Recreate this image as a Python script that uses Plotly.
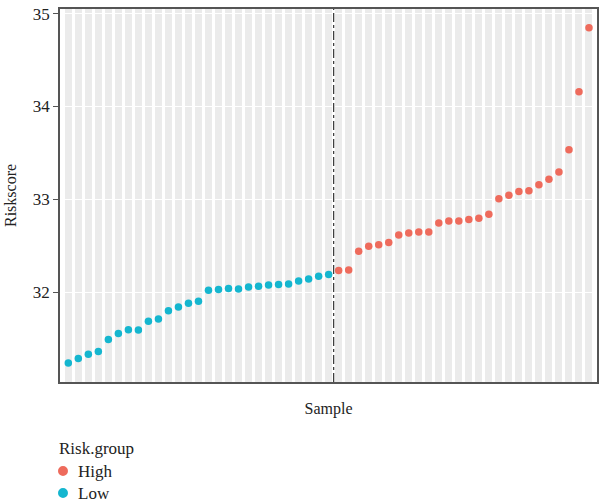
import plotly.graph_objects as go

# ---- data ----
low_scores = [31.234, 31.282, 31.328, 31.360, 31.487, 31.554, 31.594, 31.590, 31.684,
              31.709, 31.799, 31.838, 31.878, 31.900, 32.018, 32.026, 32.037, 32.032,
              32.054, 32.061, 32.076, 32.080, 32.086, 32.119, 32.140, 32.169, 32.188]
high_scores = [32.231, 32.237, 32.439, 32.493, 32.509, 32.533, 32.615, 32.636, 32.647,
               32.647, 32.744, 32.766, 32.766, 32.781, 32.795, 32.838, 33.005, 33.043,
               33.083, 33.090, 33.156, 33.216, 33.294, 33.534, 34.157, 34.848]
groups = ["High", "Low"]
y_ticks = [32, 33, 34, 35]
y_minor = [31.5, 32.5, 33.5, 34.5]

n_low = len(low_scores)
n_all = n_low + len(high_scores)
low_x = list(range(1, n_low + 1))
high_x = list(range(n_low + 1, n_all + 1))
samples = list(range(1, n_all + 1))

RED = "#EE6B5C"
BLUE = "#15B6CF"
COLORS = {"High": RED, "Low": BLUE}
FONT = "Liberation Serif"
TXT = "#222222"

W, H = 600, 504
ML, MR, MT, MB = 60, 1, 9, 122
PW, PH = W - ML - MR, H - MT - MB


def px_x(px):
    return (px - ML) / PW


def px_y(py):
    return (H - MB - py) / PH


fig = go.Figure()
fig.add_trace(go.Scatter(x=high_x, y=high_scores, mode="markers", name="High",
                         marker=dict(color=RED, size=7.5)))
fig.add_trace(go.Scatter(x=low_x, y=low_scores, mode="markers", name="Low",
                         marker=dict(color=BLUE, size=7.5)))

y_lo, y_hi = 31.03, 35.05
# white strips at top and bottom of the panel (gray columns stop short of the frame)
fig.add_shape(type="rect", xref="paper", x0=0, x1=1, yref="y", y0=34.96, y1=y_hi,
              fillcolor="white", line_width=0, layer="between")
fig.add_shape(type="rect", xref="paper", x0=0, x1=1, yref="y", y0=y_lo, y1=31.05,
              fillcolor="white", line_width=0, layer="between")
# cut-off line between low and high groups
fig.add_shape(type="line", xref="x", x0=n_low + 0.5, x1=n_low + 0.5, yref="paper", y0=0, y1=1,
              line=dict(color="#333333", width=1.2, dash="dashdot"), layer="above")

# manual ggplot-style legend below the panel
fig.add_annotation(text="Risk.group", xref="paper", yref="paper", x=px_x(57), y=px_y(448),
                   xanchor="left", yanchor="middle", showarrow=False,
                   font=dict(family=FONT, size=17, color=TXT))
r = 5
for i, g in enumerate(groups):
    cy = 471 + 22 * i
    fig.add_shape(type="circle", xref="paper", yref="paper",
                  x0=px_x(63 - r), x1=px_x(63 + r), y0=px_y(cy + r), y1=px_y(cy - r),
                  fillcolor=COLORS[g], line_width=0)
    fig.add_annotation(text=g, xref="paper", yref="paper", x=px_x(76), y=px_y(cy),
                       xanchor="left", yanchor="middle", showarrow=False,
                       font=dict(family=FONT, size=17, color=TXT))

fig.update_layout(
    width=W, height=H,
    margin=dict(l=ML, r=MR, t=MT, b=MB),
    paper_bgcolor="white", plot_bgcolor="white",
    font=dict(family=FONT, size=16, color=TXT),
    showlegend=False,
    xaxis=dict(range=[0.17, n_all + 0.8], tickvals=samples, showticklabels=False, ticks="",
               showgrid=True, gridcolor="#EBEBEB", gridwidth=6.5, zeroline=False,
               showline=True, mirror=True, linecolor="#555555", linewidth=1.5,
               title=dict(text="Sample", standoff=20, font=dict(size=16))),
    yaxis=dict(range=[y_lo, y_hi], tickvals=y_ticks, ticks="outside", ticklen=5,
               tickcolor="#555555", tickwidth=1.2, showgrid=True, gridcolor="white",
               gridwidth=1.3, zeroline=False,
               minor=dict(tickvals=y_minor, showgrid=True, gridcolor="white", gridwidth=1.1, ticks=""),
               showline=True, mirror=True, linecolor="#555555", linewidth=1.5,
               tickfont=dict(size=17),
               title=dict(text="Riskscore", standoff=12, font=dict(size=16))),
)

fig.write_html("out.html")
